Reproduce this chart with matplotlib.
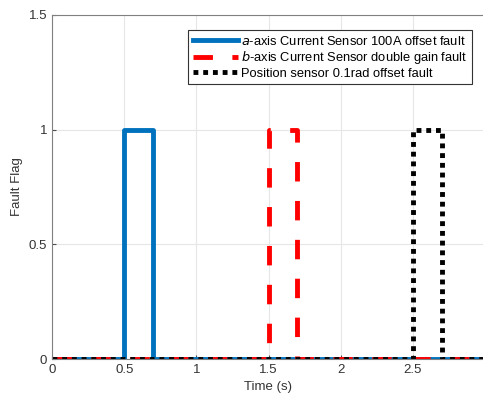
import numpy as np
import matplotlib
matplotlib.use('Agg')
import matplotlib.pyplot as plt

plt.rcParams['font.family'] = ['Liberation Sans', 'DejaVu Sans']

# --- Fault flag data (time in s, flag value)
t_a = [0, 0.5, 0.5, 0.7, 0.7, 3.0]
flag_a = [0, 0, 1, 1, 0, 0]
t_b = [0, 1.5, 1.5, 1.7, 1.7, 3.0]
flag_b = [0, 0, 1, 1, 0, 0]
t_p = [0, 2.5, 2.5, 2.7, 2.7, 3.0]
flag_p = [0, 0, 1, 1, 0, 0]

labels = [r'$\it{a}$-axis Current Sensor 100A offset fault',
          r'$\it{b}$-axis Current Sensor double gain fault',
          'Position sensor 0.1rad offset fault']
xticks = [0, 0.5, 1, 1.5, 2, 2.5]
yticks = [0, 0.5, 1, 1.5]

fig = plt.figure(figsize=(4.83, 4.01), dpi=100)
ax = fig.add_axes([52 / 483, 0.1047, 431 / 483, 0.858])

ax.plot(t_a, flag_a, color='#0072BD', lw=3.5, label=labels[0])
ax.plot(t_b, flag_b, color='#FF0000', lw=3.5, ls=(0, (4, 4)), label=labels[1])
ax.plot(t_p, flag_p, color='black', lw=3.5, ls=(0, (1, 1)), label=labels[2])

ax.set_xlim(0, 2.985)
ax.set_ylim(0, 1.5)
ax.set_xticks(xticks)
ax.set_xticklabels(['0', '0.5', '1', '1.5', '2', '2.5'])
ax.set_yticks(yticks)
ax.set_yticklabels(['0', '0.5', '1', '1.5'])
ax.grid(True, color='#e6e6e6', lw=0.8)
ax.set_axisbelow(True)
ax.tick_params(direction='in', length=3, colors='#4d4d4d', labelsize=9.5, labelcolor='#333333')
for s in ax.spines.values():
    s.set_color('#808080')
ax.spines['right'].set_visible(False)

ax.set_xlabel('Time (s)', fontsize=9.5, color='#333333')
ax.set_ylabel('Fault Flag', fontsize=9.5, color='#333333')

leg = ax.legend(loc='upper right', bbox_to_anchor=(0.99, 0.975), fontsize=9.3,
                handlelength=3.5, handletextpad=0.25, borderpad=0.35,
                labelspacing=0.12, fancybox=False, framealpha=1, edgecolor='#333333')
leg.get_frame().set_linewidth(0.8)

plt.savefig('out.png', dpi=100)
